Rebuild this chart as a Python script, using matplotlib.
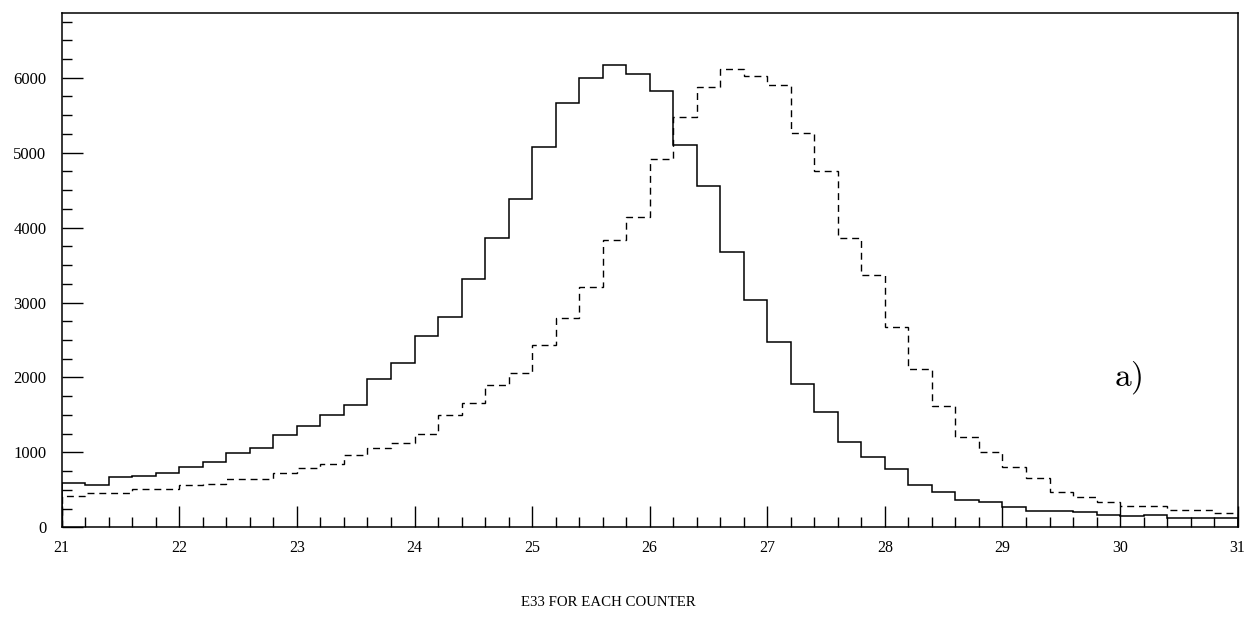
import matplotlib
matplotlib.use("Agg")
import matplotlib.pyplot as plt
from matplotlib.ticker import MultipleLocator
import numpy as np

# bin edges: 50 bins of width 0.2 between 21 and 31
x_min, x_max, n_bins = 21.0, 31.0, 50
edges = np.linspace(x_min, x_max, n_bins + 1)

# solid histogram (counts per bin)
solid_counts = [
    587, 565, 668, 689, 721, 809, 872, 988, 1055, 1232,
    1352, 1495, 1633, 1980, 2190, 2554, 2812, 3315, 3858, 4383,
    5082, 5661, 5999, 6176, 6052, 5821, 5104, 4557, 3680, 3040,
    2470, 1913, 1535, 1139, 943, 783, 569, 467, 364, 342,
    267, 222, 222, 200, 164, 151, 160, 124, 124, 128,
]

# dashed histogram (counts per bin)
dashed_counts = [
    418, 462, 462, 511, 507, 565, 578, 641, 641, 729,
    787, 849, 965, 1055, 1121, 1246, 1495, 1655, 1896, 2064,
    2438, 2798, 3204, 3836, 4143, 4921, 5474, 5874, 6115, 6025,
    5901, 5260, 4754, 3858, 3368, 2678, 2109, 1624, 1210, 1010,
    809, 654, 475, 400, 338, 284, 284, 231, 231, 187,
]

y_top = 6860
x_major = [21, 22, 23, 24, 25, 26, 27, 28, 29, 30, 31]
y_major = [0, 1000, 2000, 3000, 4000, 5000, 6000]

plt.rcParams["font.family"] = ["Liberation Serif", "DejaVu Serif"]
plt.rcParams["mathtext.fontset"] = "cm"

fig = plt.figure(figsize=(12.47, 6.17), dpi=100)
ax = fig.add_axes([0.0495, 0.1454, 0.943, 0.833])

ax.stairs(solid_counts, edges, color="black", linewidth=1.1, baseline=0)
ax.stairs(dashed_counts, edges, color="black", linewidth=1.0,
          linestyle=(0, (5, 3.5)), baseline=0)

ax.set_xlim(x_min, x_max)
ax.set_ylim(0, y_top)

ax.set_xticks(x_major)
ax.set_xticklabels([str(v) for v in x_major])
ax.set_yticks(y_major)
ax.set_yticklabels([str(v) for v in y_major])
ax.xaxis.set_minor_locator(MultipleLocator(0.2))
ax.yaxis.set_minor_locator(MultipleLocator(250))

ax.tick_params(axis="both", which="both", direction="in", top=False, right=False,
               width=1.0, color="black")
ax.tick_params(axis="x", which="major", labelsize=11.5, pad=9)
ax.tick_params(axis="y", which="major", labelsize=12, pad=11)
ax.tick_params(axis="both", which="major", length=15)
ax.tick_params(axis="both", which="minor", length=7.5)

for side in ["left", "bottom", "top", "right"]:
    ax.spines[side].set_linewidth(1.1)
    ax.spines[side].set_color("black")

ax.text(30.07, 2000, r"$\mathrm{a)}$", fontsize=24, ha="center", va="center")

fig.text(608 / 1247, 1 - 603 / 617, "E33 FOR EACH COUNTER", fontsize=10.7,
         ha="center", va="center")

fig.savefig("out.png", dpi=100)
